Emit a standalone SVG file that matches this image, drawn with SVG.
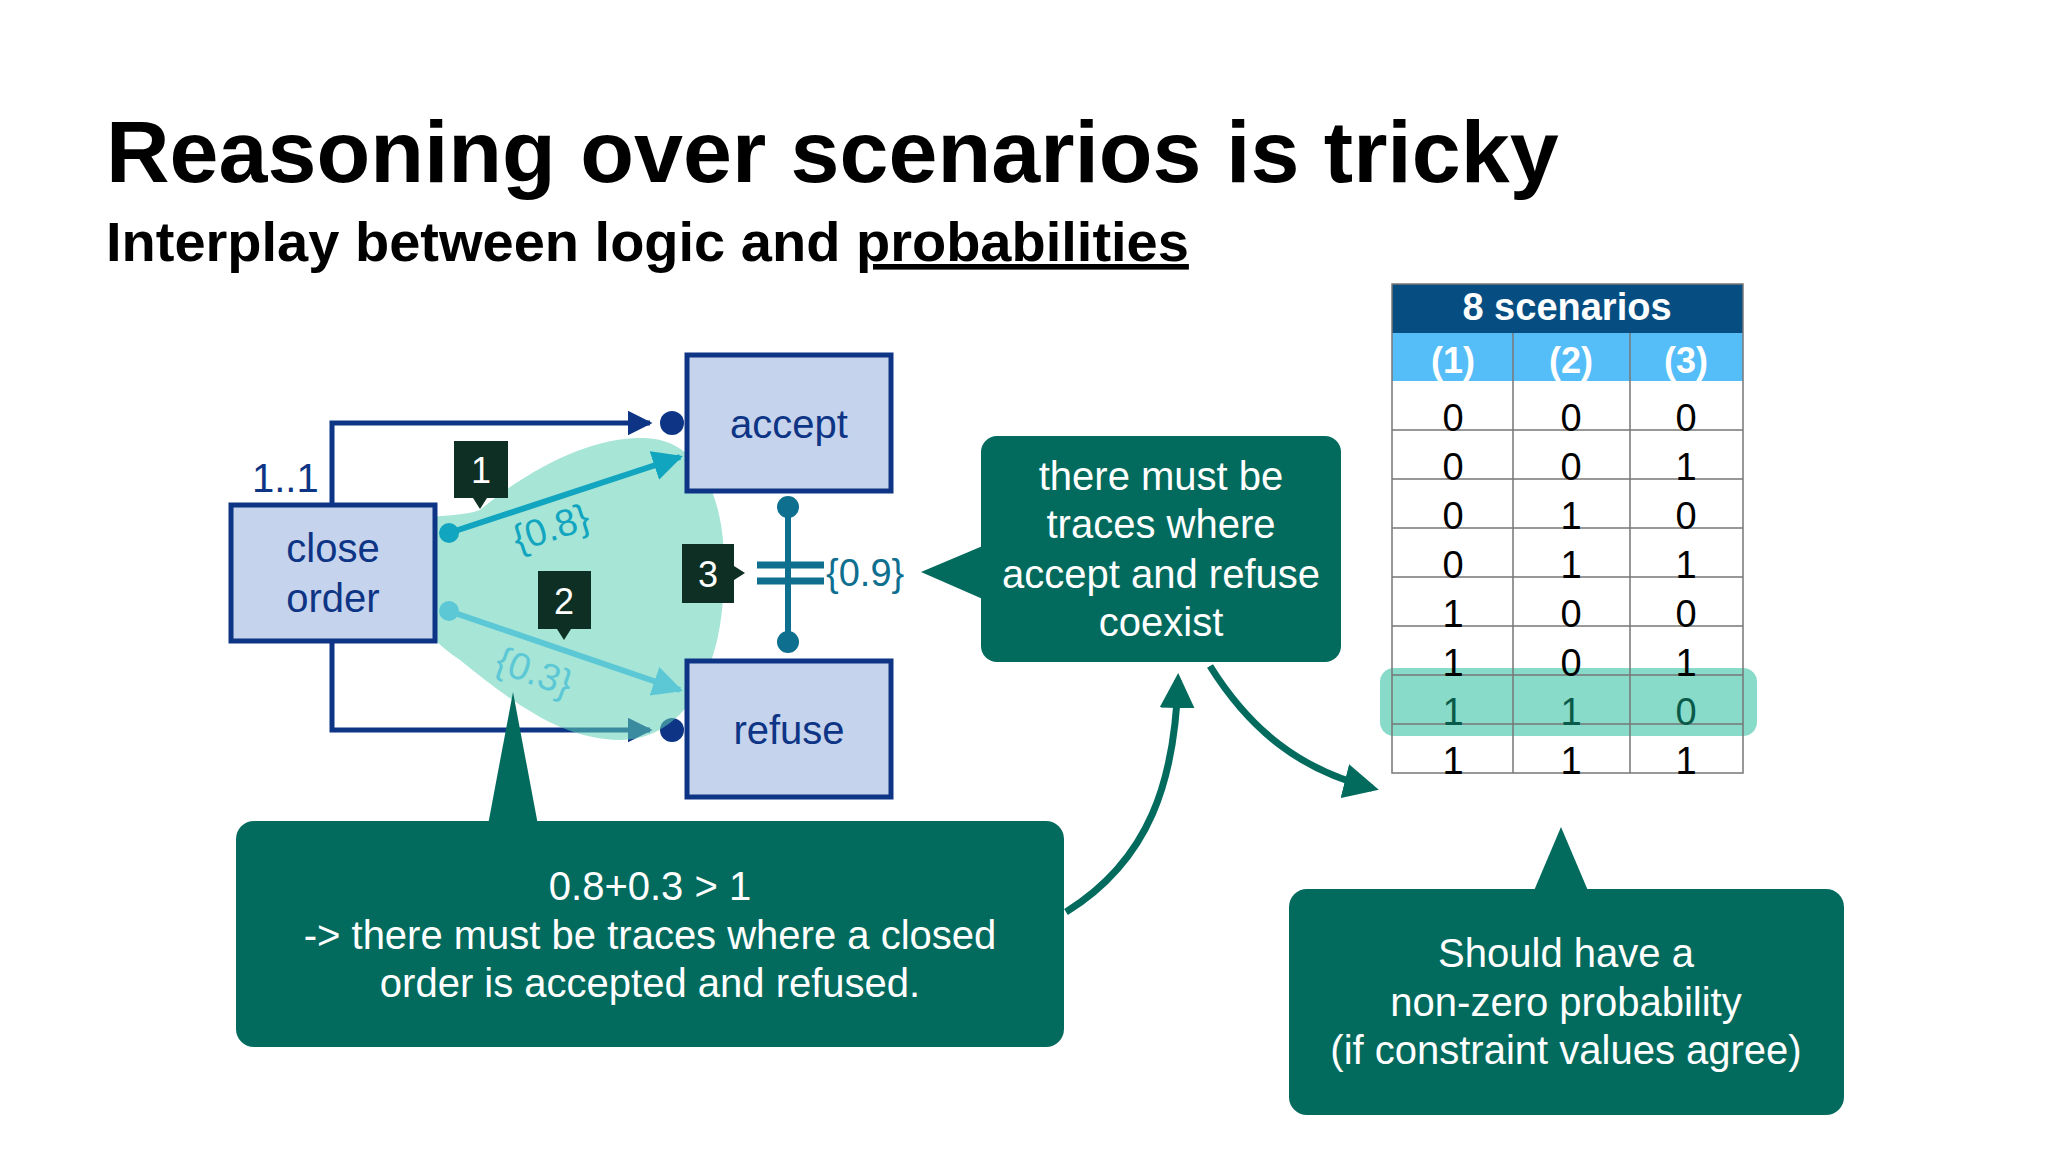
<svg xmlns="http://www.w3.org/2000/svg" width="2048" height="1152" viewBox="0 0 2048 1152">
<style>
text{font-family:"Liberation Sans",Arial,sans-serif}
.box{fill:#c5d3ec;stroke:#0e3585;stroke-width:5}
.bl{font-size:40px;fill:#0e3585;text-anchor:middle}
.conn{fill:none;stroke:#0e3585;stroke-width:5}
.call{fill:#036b5e}
.ct{font-size:40px;fill:#fff;text-anchor:middle}
.tag{fill:#0d2f24}
.tt{font-size:36px;fill:#fff;text-anchor:middle}
.cell{font-size:38px;fill:#000;text-anchor:middle}
.grid{stroke:#777;stroke-width:1.5;fill:none}
</style>
<defs>
<marker id="ab" viewBox="0 0 10 10" refX="9" refY="5" markerWidth="5" markerHeight="5" orient="auto" markerUnits="strokeWidth"><path d="M0,0L10,5L0,10z" fill="#0e3585"/></marker>
<marker id="ac" viewBox="0 0 10 10" refX="9" refY="5" markerWidth="5" markerHeight="5" orient="auto" markerUnits="strokeWidth"><path d="M0,0L10,5L0,10z" fill="#12a5c0"/></marker>
<marker id="ac2" viewBox="0 0 10 10" refX="9" refY="5" markerWidth="5" markerHeight="5" orient="auto" markerUnits="strokeWidth"><path d="M0,0L10,5L0,10z" fill="#5cc8d6"/></marker>
<marker id="ag" viewBox="0 0 10 10" refX="8" refY="5" markerWidth="5" markerHeight="5" orient="auto" markerUnits="strokeWidth"><path d="M0,0L10,5L0,10z" fill="#036b5e"/></marker>
</defs>
<rect width="2048" height="1152" fill="#fff"/>
<text x="106" y="182" font-size="88" font-weight="bold" fill="#000">Reasoning over scenarios is tricky</text>
<text x="106" y="261" font-size="56" font-weight="bold" fill="#000">Interplay between logic and <tspan text-decoration="underline">probabilities</tspan></text>

<g id="connectors">
<path class="conn" d="M332,504V423H650" marker-end="url(#ab)"/>
<circle cx="672" cy="423" r="12" fill="#0e3585"/>
<path class="conn" d="M332,641V730H650" marker-end="url(#ab)"/>
<circle cx="672" cy="730" r="12" fill="#0e3585"/>
</g>

<g id="blob">
<path d="M480,510C540,460 610,430 660,440C720,455 730,540 722,610C715,680 680,740 620,740C560,740 510,700 460,660C400,620 390,570 410,530C425,510 450,520 480,510Z" fill="#5fcfb6" opacity="0.55"/>
</g>

<g id="close-order"><rect class="box" x="231" y="505" width="204" height="136"/><text class="bl" x="333" y="562">close</text><text class="bl" x="333" y="612">order</text></g>
<text x="252" y="492" font-size="40" fill="#0e3585">1..1</text>
<g id="accept"><rect class="box" x="687" y="355" width="204" height="136"/><text class="bl" x="789" y="438">accept</text></g>
<g id="refuse"><rect class="box" x="687" y="661" width="204" height="136"/><text class="bl" x="789" y="744">refuse</text></g>

<g id="prob-arrows">
<circle cx="449" cy="533" r="10" fill="#12a5c0"/>
<line x1="449" y1="533" x2="680" y2="457" stroke="#12a5c0" stroke-width="6" marker-end="url(#ac)"/>
<circle cx="449" cy="611" r="10" fill="#5cc8d6"/>
<line x1="449" y1="611" x2="680" y2="690" stroke="#5cc8d6" stroke-width="6" marker-end="url(#ac2)"/>
<text x="555" y="540" font-size="38" fill="#12a5c0" text-anchor="middle" transform="rotate(-18 555 540)">{0.8}</text>
<text x="530" y="684" font-size="38" fill="#5cc8d6" text-anchor="middle" transform="rotate(20 530 684)">{0.3}</text>
<line x1="788" y1="505" x2="788" y2="644" stroke="#0f6f8f" stroke-width="6"/>
<circle cx="788" cy="507" r="11" fill="#0f6f8f"/><circle cx="788" cy="642" r="11" fill="#0f6f8f"/>
<line x1="757" y1="565" x2="824" y2="565" stroke="#0f6f8f" stroke-width="7"/>
<line x1="757" y1="581" x2="824" y2="581" stroke="#0f6f8f" stroke-width="7"/>
<text x="826" y="586" font-size="38" fill="#0f6f8f">{0.9}</text>
</g>

<g id="tags">
<path class="tag" d="M454,441H508V498H487L480,509L473,498H454Z"/><text class="tt" x="481" y="483">1</text>
<path class="tag" d="M538,571H591V629H571L564,640L557,629H538Z"/><text class="tt" x="564" y="614">2</text>
<path class="tag" d="M682,544H734V566L745,573L734,580V603H682Z"/><text class="tt" x="708" y="587">3</text>
</g>

<g id="callout-right">
<rect class="call" x="981" y="436" width="360" height="226" rx="16"/>
<path class="call" d="M985,545L921,572L985,600Z"/>
<text class="ct" x="1161" y="490">there must be</text>
<text class="ct" x="1161" y="538">traces where</text>
<text class="ct" x="1161" y="588">accept and refuse</text>
<text class="ct" x="1161" y="636">coexist</text>
</g>

<g id="callout-bottom">
<rect class="call" x="236" y="821" width="828" height="226" rx="18"/>
<path class="call" d="M488,825L513,692L538,825Z"/>
<text class="ct" x="650" y="900">0.8+0.3 &gt; 1</text>
<text class="ct" x="650" y="949">-&gt; there must be traces where a closed</text>
<text class="ct" x="650" y="997">order is accepted and refused.</text>
</g>

<g id="table">
<rect x="1392" y="284" width="351" height="49" fill="#064e82"/>
<text x="1567" y="328" font-size="38" font-weight="bold" fill="#fff" text-anchor="middle" dy="-8">8 scenarios</text>
<rect x="1392" y="333" width="351" height="48" fill="#55bef8"/>
<g font-size="36" font-weight="bold" fill="#fff" text-anchor="middle">
<text x="1453" y="387" dy="-14">(1)</text><text x="1571" y="387" dy="-14">(2)</text><text x="1686" y="387" dy="-14">(3)</text>
</g>
<rect x="1380" y="745" width="377" height="68" rx="14" fill="#5fcfb6" opacity="0.75" transform="translate(0,-77)"/>
<path class="grid" d="M1392,284H1743V773H1392Z M1513,333V773 M1630,333V773 M1392,430H1743 M1392,479H1743 M1392,528H1743 M1392,577H1743 M1392,626H1743 M1392,675H1743 M1392,724H1743"/>
<g class="cell">
<text x="1453" y="445" dy="-14">0</text><text x="1571" y="445" dy="-14">0</text><text x="1686" y="445" dy="-14">0</text>
<text x="1453" y="494" dy="-14">0</text><text x="1571" y="494" dy="-14">0</text><text x="1686" y="494" dy="-14">1</text>
<text x="1453" y="543" dy="-14">0</text><text x="1571" y="543" dy="-14">1</text><text x="1686" y="543" dy="-14">0</text>
<text x="1453" y="592" dy="-14">0</text><text x="1571" y="592" dy="-14">1</text><text x="1686" y="592" dy="-14">1</text>
<text x="1453" y="641" dy="-14">1</text><text x="1571" y="641" dy="-14">0</text><text x="1686" y="641" dy="-14">0</text>
<text x="1453" y="690" dy="-14">1</text><text x="1571" y="690" dy="-14">0</text><text x="1686" y="690" dy="-14">1</text>
<text x="1453" y="739" dy="-14" fill="#0a5a4a">1</text><text x="1571" y="739" dy="-14" fill="#0a5a4a">1</text><text x="1686" y="739" dy="-14" fill="#0a5a4a">0</text>
<text x="1453" y="788" dy="-14">1</text><text x="1571" y="788" dy="-14">1</text><text x="1686" y="788" dy="-14">1</text>
</g>
</g>

<g id="callout-br">
<rect class="call" x="1289" y="889" width="555" height="226" rx="18"/>
<path class="call" d="M1533,893L1561,827L1589,893Z"/>
<text class="ct" x="1566" y="967">Should have a</text>
<text class="ct" x="1566" y="1016">non-zero probability</text>
<text class="ct" x="1566" y="1064">(if constraint values agree)</text>
</g>

<g id="curved-arrows" fill="none" stroke="#036b5e" stroke-width="7">
<path d="M1066,912C1150,860 1175,780 1178,680" marker-end="url(#ag)"/>
<path d="M1210,666C1250,730 1300,770 1372,788" marker-end="url(#ag)"/>
</g>
</svg>
